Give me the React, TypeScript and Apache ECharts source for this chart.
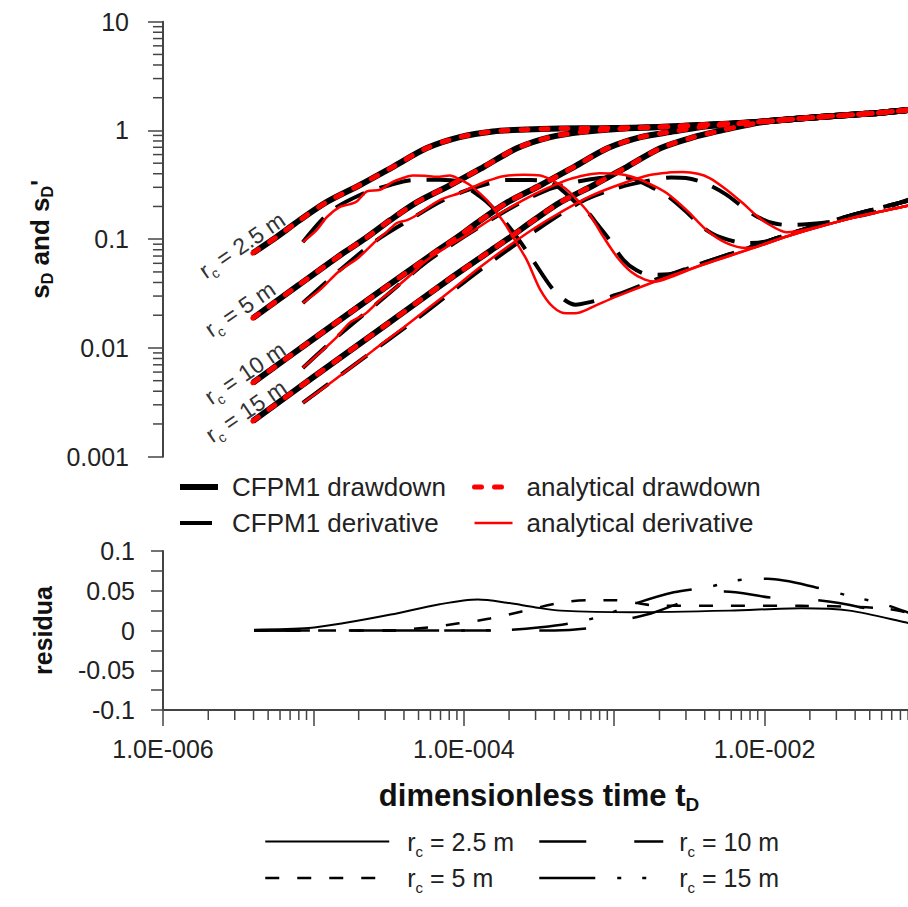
import React, { useEffect, useRef } from "react";
import * as echarts from "echarts";

type Pt = [number, number];

const FONT = "'Liberation Sans', Arial, Helvetica, sans-serif";

// ---------- labels / ticks ----------
const rcValues = ["2.5 m", "5 m", "10 m", "15 m"];
const residualNames = ["rc = 2.5 m", "rc = 5 m", "rc = 10 m", "rc = 15 m"];
const yTickExponents = [-3, -2, -1, 0, 1];
const yTickLabels = ["0.001", "0.01", "0.1", "1", "10"];
const xTickExponents = [-6, -4, -2];
const xTickLabels = ["1.0E-006", "1.0E-004", "1.0E-002"];
const residualTickValues = [-0.1, -0.05, 0, 0.05, 0.1];
const residualTickLabels = ["-0.1", "-0.05", "0", "0.05", "0.1"];
const minorTickMultipliers = [2, 3, 4, 5, 6, 7, 8, 9];
const yDecades = [-3, -2, -1, 0];
const xDecades = [-6, -5, -4, -3, -2];

// ---------- drawdown (CFPM1 and analytical overlap) ----------
const drawdown25: Pt[] = [
  [3.96e-6, 0.0746], [5.54e-6, 0.102], [8.13e-6, 0.15], [1.23e-5, 0.22], [2.04e-5, 0.315],
  [3.37e-5, 0.461], [5.68e-5, 0.689], [9.39e-5, 0.869], [1.56e-4, 0.98], [2.62e-4, 1.02],
  [4.35e-4, 1.04], [8.02e-4, 1.05], [1.8e-3, 1.07], [3.7e-3, 1.12], [8.32e-3, 1.19],
  [2.32e-2, 1.33], [4.99e-2, 1.43], [8.91e-2, 1.54], [1.0e-1, 1.57],
];
const drawdown5: Pt[] = [
  [3.96e-6, 0.0188], [7.9e-6, 0.0375], [1.58e-5, 0.0746], [2.22e-5, 0.102], [3.25e-5, 0.15],
  [4.92e-5, 0.22], [8.16e-5, 0.315], [1.35e-4, 0.461], [2.27e-4, 0.689], [3.76e-4, 0.869],
  [6.24e-4, 0.97], [1.05e-3, 1.03], [1.8e-3, 1.07], [3.7e-3, 1.12], [8.32e-3, 1.19],
  [2.32e-2, 1.33], [4.99e-2, 1.43], [8.91e-2, 1.54], [1.0e-1, 1.57],
];
const drawdown10: Pt[] = [
  [3.96e-6, 0.00479], [1.0e-5, 0.0121], [2.5e-5, 0.03], [6.34e-5, 0.0746], [8.86e-5, 0.102],
  [1.3e-4, 0.15], [1.97e-4, 0.22], [3.26e-4, 0.315], [5.39e-4, 0.461], [9.09e-4, 0.689],
  [1.5e-3, 0.869], [2.5e-3, 0.98], [3.7e-3, 1.07], [5.5e-3, 1.13], [8.32e-3, 1.19],
  [2.32e-2, 1.33], [4.99e-2, 1.43], [8.91e-2, 1.54], [1.0e-1, 1.57],
];
const drawdown15: Pt[] = [
  [3.96e-6, 0.00213], [1.0e-5, 0.0054], [3.0e-5, 0.0161], [8.0e-5, 0.0428], [1.43e-4, 0.0746],
  [1.99e-4, 0.102], [2.93e-4, 0.15], [4.43e-4, 0.22], [7.34e-4, 0.315], [1.21e-3, 0.461],
  [2.04e-3, 0.689], [3.38e-3, 0.869], [5.0e-3, 0.99], [7.0e-3, 1.1], [1.0e-2, 1.2],
  [2.32e-2, 1.33], [4.99e-2, 1.43], [8.91e-2, 1.54], [1.0e-1, 1.57],
];

// ---------- derivatives ----------
const cfpmDeriv25: Pt[] = [
  [8.5e-6, 0.094], [1.28e-5, 0.177], [2.04e-5, 0.255], [3.23e-5, 0.315], [4.58e-5, 0.35],
  [6.9e-5, 0.352], [9.39e-5, 0.336], [1.12e-4, 0.283], [1.4e-4, 0.225], [1.66e-4, 0.178],
  [2.25e-4, 0.105], [2.87e-4, 0.0646], [3.85e-4, 0.0356], [4.69e-4, 0.0276], [5.52e-4, 0.025],
  [7.0e-4, 0.0265], [1.05e-3, 0.031], [1.8e-3, 0.0415], [3.7e-3, 0.059], [8.85e-3, 0.088],
  [1.4e-2, 0.11], [3.85e-2, 0.167], [8.91e-2, 0.225], [1.0e-1, 0.233],
];
const anaDeriv25: Pt[] = [
  [8.5e-6, 0.094], [1.05e-5, 0.121], [1.23e-5, 0.16], [1.5e-5, 0.198], [1.75e-5, 0.21],
  [1.94e-5, 0.222], [2.27e-5, 0.275], [2.77e-5, 0.285], [3.37e-5, 0.336], [3.94e-5, 0.365],
  [4.58e-5, 0.385], [5.5e-5, 0.383], [6.62e-5, 0.375], [8.08e-5, 0.385], [9.39e-5, 0.355],
  [1.08e-4, 0.32], [1.22e-4, 0.28], [1.44e-4, 0.225], [1.66e-4, 0.175], [1.9e-4, 0.135],
  [2.12e-4, 0.105], [2.62e-4, 0.0646], [3.2e-4, 0.035], [3.9e-4, 0.024], [4.83e-4, 0.0208],
  [5.9e-4, 0.0212], [7.5e-4, 0.0245], [1.05e-3, 0.03], [1.8e-3, 0.04], [3.7e-3, 0.057],
  [8.85e-3, 0.085], [1.4e-2, 0.106], [3.85e-2, 0.157], [8.91e-2, 0.203], [1.0e-1, 0.21],
];
const cfpmDeriv5: Pt[] = [
  [8.5e-6, 0.0259], [1.43e-5, 0.049], [2.64e-5, 0.098], [4.58e-5, 0.157], [6.9e-5, 0.22],
  [1.0e-4, 0.275], [1.4e-4, 0.32], [1.9e-4, 0.35], [2.8e-4, 0.35], [3.76e-4, 0.336],
  [4.5e-4, 0.283], [5.4e-4, 0.225], [6.64e-4, 0.178], [7.8e-4, 0.135], [9.0e-4, 0.105],
  [1.15e-3, 0.0646], [1.4e-3, 0.052], [1.75e-3, 0.047], [2.3e-3, 0.0475], [3.7e-3, 0.059],
  [8.85e-3, 0.088], [1.4e-2, 0.11], [3.85e-2, 0.167], [8.91e-2, 0.225], [1.0e-1, 0.233],
];
const anaDeriv5: Pt[] = [
  [8.5e-6, 0.0259], [1.1e-5, 0.034], [1.5e-5, 0.0515], [2.0e-5, 0.068], [2.64e-5, 0.098],
  [3.1e-5, 0.118], [3.59e-5, 0.141], [4.2e-5, 0.15], [4.88e-5, 0.167], [6.93e-5, 0.229],
  [9.39e-5, 0.266], [1.15e-4, 0.302], [1.45e-4, 0.345], [1.83e-4, 0.38], [2.5e-4, 0.392],
  [3.23e-4, 0.385], [3.76e-4, 0.355], [4.3e-4, 0.32], [4.88e-4, 0.283], [5.76e-4, 0.225],
  [6.64e-4, 0.18], [7.6e-4, 0.135], [8.48e-4, 0.105], [1.05e-3, 0.068], [1.3e-3, 0.05],
  [1.6e-3, 0.0425], [1.9e-3, 0.0408], [2.4e-3, 0.045], [3.7e-3, 0.057], [8.85e-3, 0.085],
  [1.4e-2, 0.106], [3.85e-2, 0.157], [8.91e-2, 0.203], [1.0e-1, 0.21],
];
const cfpmDeriv10: Pt[] = [
  [8.5e-6, 0.00655], [1.43e-5, 0.0126], [2.77e-5, 0.027], [5.68e-5, 0.062], [1.0e-4, 0.105],
  [2.0e-4, 0.19], [3.5e-4, 0.28], [5.5e-4, 0.335], [8.0e-4, 0.365], [1.1e-3, 0.37],
  [1.33e-3, 0.36], [1.7e-3, 0.31], [2.23e-3, 0.253], [3.0e-3, 0.18], [3.87e-3, 0.129],
  [5.0e-3, 0.105], [7.6e-3, 0.092], [1.0e-2, 0.095], [1.4e-2, 0.11], [3.85e-2, 0.167],
  [8.91e-2, 0.225], [1.0e-1, 0.233],
];
const anaDeriv10: Pt[] = [
  [8.5e-6, 0.00655], [1.1e-5, 0.009], [1.43e-5, 0.0126], [1.74e-5, 0.017], [2.2e-5, 0.0205],
  [2.77e-5, 0.0276], [3.5e-5, 0.0355], [4.58e-5, 0.0489], [5.68e-5, 0.0643], [7.5e-5, 0.083],
  [1.0e-4, 0.105], [1.6e-4, 0.16], [2.5e-4, 0.23], [3.5e-4, 0.29], [5.0e-4, 0.355],
  [6.5e-4, 0.39], [8.0e-4, 0.405], [1.05e-3, 0.4], [1.33e-3, 0.373], [1.75e-3, 0.32],
  [2.23e-3, 0.266], [3.03e-3, 0.185], [4.12e-3, 0.121], [5.59e-3, 0.0922], [7.6e-3, 0.083],
  [8.85e-3, 0.085], [1.4e-2, 0.106], [3.85e-2, 0.157], [8.91e-2, 0.203], [1.0e-1, 0.21],
];
const cfpmDeriv15: Pt[] = [
  [8.5e-6, 0.00312], [2.0e-5, 0.0075], [5.0e-5, 0.019], [1.28e-4, 0.052], [3.0e-4, 0.12],
  [6.0e-4, 0.22], [1.0e-3, 0.29], [1.6e-3, 0.34], [2.4e-3, 0.37], [3.0e-3, 0.365],
  [3.99e-3, 0.328], [5.5e-3, 0.26], [7.15e-3, 0.198], [9.0e-3, 0.16], [1.15e-2, 0.14],
  [1.46e-2, 0.135], [2.0e-2, 0.138], [2.83e-2, 0.145], [3.6e-2, 0.157], [5.5e-2, 0.178],
  [8.91e-2, 0.23], [1.0e-1, 0.236],
];
const anaDeriv15: Pt[] = [
  [8.5e-6, 0.00312], [1.2e-5, 0.0044], [1.7e-5, 0.0063], [2.5e-5, 0.0095], [4.0e-5, 0.0155],
  [6.0e-5, 0.024], [8.5e-5, 0.035], [1.28e-4, 0.0552], [2.0e-4, 0.087], [3.0e-4, 0.128],
  [4.35e-4, 0.175], [7.0e-4, 0.25], [1.1e-3, 0.32], [1.72e-3, 0.389], [2.3e-3, 0.41],
  [2.85e-3, 0.414], [3.6e-3, 0.4], [4.31e-3, 0.365], [5.5e-3, 0.29], [7.15e-3, 0.215],
  [8.6e-3, 0.17], [1.03e-2, 0.141], [1.4e-2, 0.116], [2.0e-2, 0.125], [3.85e-2, 0.157],
  [8.91e-2, 0.203], [1.0e-1, 0.21],
];

// ---------- residuals ----------
const residual25: Pt[] = [
  [4.03e-6, 0.001], [9.33e-6, 0.003], [1.57e-5, 0.009], [3.27e-5, 0.02], [6.92e-5, 0.033],
  [1.24e-4, 0.039], [1.93e-4, 0.035], [3.01e-4, 0.029], [4.41e-4, 0.025], [1.33e-3, 0.023],
  [5.85e-3, 0.025], [1.76e-2, 0.028], [3.67e-2, 0.025], [8.77e-2, 0.01], [1.0e-1, 0.007],
];
const residual5: Pt[] = [
  [4.03e-6, 0], [1.5e-5, 0], [3.0e-5, 0.0], [5.9e-5, 0.004], [9.27e-5, 0.009],
  [1.49e-4, 0.015], [2.43e-4, 0.024], [4.41e-4, 0.035], [6.87e-4, 0.038], [1.02e-3, 0.038],
  [2.0e-3, 0.031], [5.85e-3, 0.031], [1.76e-2, 0.031], [3.67e-2, 0.03], [6.78e-2, 0.027],
  [1.0e-1, 0.02],
];
const residual10: Pt[] = [
  [4.03e-6, 0], [1.0e-4, 0], [4.0e-4, 0], [6.87e-4, 0.003], [8.51e-4, 0.008],
  [1.2e-3, 0.014], [1.73e-3, 0.021], [3.0e-3, 0.037], [5.42e-3, 0.049], [1.1e-2, 0.0415],
  [2.28e-2, 0.038], [4.4e-2, 0.029], [8.9e-2, 0.014], [1.0e-1, 0.012],
];
const residual15: Pt[] = [
  [4.03e-6, 0], [1.0e-4, 0], [2.05e-4, 0.001], [3.25e-4, 0.004], [5.47e-4, 0.01],
  [8.5e-4, 0.019], [1.39e-3, 0.034], [2.49e-3, 0.048], [4.32e-3, 0.055], [6.52e-3, 0.063],
  [1.05e-2, 0.065], [2.35e-2, 0.053], [3.56e-2, 0.044], [5.98e-2, 0.034], [8.9e-2, 0.023],
  [1.0e-1, 0.02],
];

const drawdowns = [drawdown25, drawdown5, drawdown10, drawdown15];
const cfpmDerivs = [cfpmDeriv25, cfpmDeriv5, cfpmDeriv10, cfpmDeriv15];
const anaDerivs = [anaDeriv25, anaDeriv5, anaDeriv10, anaDeriv15];
const residuals = [residual25, residual5, residual10, residual15];
const residualDash: any[] = ["solid", [14, 18], [47, 48], [56, 22, 4, 21, 4, 22]];

// in-plot label anchors (pixels) and rotation
const curveLabelPos: Pt[] = [[242, 245], [240, 309], [245, 373], [246, 411]];

const AXIS = "#444";
const TXT = "#222";

function rcRich(size: number, lh: number, color: string) {
  return {
    r: { fontFamily: FONT, fontSize: size, color, lineHeight: lh },
    s: { fontFamily: FONT, fontSize: Math.round(size * 0.6), color, lineHeight: Math.round(size * 0.56), verticalAlign: "bottom" },
  };
}

function buildOption(): any {
  const line = { type: "line", showSymbol: false, symbol: "none", silent: true, smooth: 0.3 };
  const series: any[] = [];
  drawdowns.forEach((d) =>
    series.push({ ...line, name: "CFPM1 drawdown", xAxisIndex: 0, yAxisIndex: 0, data: d, z: 2,
      lineStyle: { color: "#000", width: 6 }, itemStyle: { color: "#000" } })
  );
  cfpmDerivs.forEach((d) =>
    series.push({ ...line, name: "CFPM1 derivative", xAxisIndex: 0, yAxisIndex: 0, data: d, z: 3,
      lineStyle: { color: "#000", width: 4, type: [32, 16] }, itemStyle: { color: "#000" } })
  );
  anaDerivs.forEach((d) =>
    series.push({ ...line, name: "analytical derivative", xAxisIndex: 0, yAxisIndex: 0, data: d, z: 4,
      lineStyle: { color: "#ff0000", width: 2.5 }, itemStyle: { color: "#ff0000" } })
  );
  drawdowns.forEach((d) =>
    series.push({ ...line, name: "analytical drawdown", xAxisIndex: 0, yAxisIndex: 0, data: d, z: 5,
      lineStyle: { color: "#ff0000", width: 5, type: [7, 13], cap: "round" }, itemStyle: { color: "#ff0000" } })
  );
  residuals.forEach((d, i) =>
    series.push({ ...line, name: residualNames[i], xAxisIndex: 1, yAxisIndex: 1, data: d, z: 3,
      lineStyle: { color: "#000", width: i === 0 ? 2 : 2.5, type: residualDash[i] }, itemStyle: { color: "#000" } })
  );

  const yMinor: Pt[] = [];
  yDecades.forEach((k) => minorTickMultipliers.forEach((m) => yMinor.push([1e-6, m * Math.pow(10, k)])));
  const xMinor: Pt[] = [];
  xDecades.forEach((k) => minorTickMultipliers.forEach((m) => xMinor.push([m * Math.pow(10, k), -0.1])));

  series.push({
    type: "custom", xAxisIndex: 0, yAxisIndex: 0, silent: true, clip: false, z: 1, data: yMinor,
    renderItem: (_p: any, api: any) => {
      const c = api.coord([api.value(0), api.value(1)]);
      return { type: "line", shape: { x1: c[0] - 10, y1: c[1], x2: c[0], y2: c[1] }, style: { stroke: AXIS, lineWidth: 1.5 } };
    },
  });
  series.push({
    type: "custom", xAxisIndex: 1, yAxisIndex: 1, silent: true, clip: false, z: 1, data: xMinor,
    renderItem: (_p: any, api: any) => {
      const c = api.coord([api.value(0), api.value(1)]);
      return { type: "line", shape: { x1: c[0], y1: c[1], x2: c[0], y2: c[1] + 10 }, style: { stroke: AXIS, lineWidth: 1.5 } };
    },
  });

  const legendBase = {
    orient: "vertical", padding: 0, selectedMode: false, itemHeight: 14,
    lineStyle: { width: "inherit" }, itemStyle: { opacity: 0, borderWidth: 0 },
  };
  const legendTxt = { fontFamily: FONT, fontSize: 26, color: TXT, lineHeight: 26, padding: [0, 0, 0, 9] };
  const rcFormatter = (name: string) => `{r|r}{s|c}{r| = ${rcValues[residualNames.indexOf(name)]}}`;

  return {
    animation: false,
    backgroundColor: "#fff",
    grid: [
      { left: 163, top: 21.7, width: 752, height: 435, outerBoundsMode: "none" },
      { left: 163, top: 551, width: 752, height: 159, outerBoundsMode: "none" },
    ],
    xAxis: [
      { gridIndex: 0, type: "log", logBase: 10, min: 1e-6, max: 0.1, splitNumber: 5, show: false },
      {
        gridIndex: 1, type: "log", logBase: 10, min: 1e-6, max: 0.1, splitNumber: 5,
        axisLine: { show: true, onZero: false, lineStyle: { color: AXIS, width: 2 } },
        axisTick: { show: true, length: 16, lineStyle: { color: AXIS, width: 1.5 } },
        splitLine: { show: false }, minorTick: { show: false },
        axisLabel: {
          fontFamily: FONT, fontSize: 25, color: TXT, margin: 26,
          formatter: (v: number) => {
            const i = xTickExponents.indexOf(Math.round(Math.log10(v)));
            return i >= 0 ? xTickLabels[i] : "";
          },
        },
        name: "{b|dimensionless time t}{sub|D}", nameLocation: "middle", nameGap: 66,
        nameTextStyle: {
          rich: {
            b: { fontFamily: FONT, fontSize: 31, fontWeight: "bold", color: "#111", lineHeight: 38 },
            sub: { fontFamily: FONT, fontSize: 19, fontWeight: "bold", color: "#111", lineHeight: 18, verticalAlign: "bottom" },
          },
        },
      },
    ],
    yAxis: [
      {
        gridIndex: 0, type: "log", logBase: 10, min: 0.001, max: 10, splitNumber: 4,
        axisLine: { show: true, onZero: false, lineStyle: { color: AXIS, width: 2 } },
        axisTick: { show: true, length: 15, lineStyle: { color: AXIS, width: 1.5 } },
        splitLine: { show: false },
        axisLabel: {
          fontFamily: FONT, fontSize: 25, color: TXT, margin: 34,
          formatter: (v: number) => {
            const i = yTickExponents.indexOf(Math.round(Math.log10(v)));
            return i >= 0 ? yTickLabels[i] : "";
          },
        },
        name: "{b|s}{sub|D}{b| and s}{sub|D}{b|'}", nameLocation: "middle", nameRotate: 90, nameGap: 107,
        nameTextStyle: {
          rich: {
            b: { fontFamily: FONT, fontSize: 26, fontWeight: "bold", color: "#111", lineHeight: 32 },
            sub: { fontFamily: FONT, fontSize: 16, fontWeight: "bold", color: "#111", lineHeight: 16, verticalAlign: "bottom" },
          },
        },
      },
      {
        gridIndex: 1, type: "value", min: -0.1, max: 0.1, interval: 0.025,
        axisLine: { show: true, onZero: false, lineStyle: { color: AXIS, width: 2 } },
        axisTick: { show: true, length: 12, lineStyle: { color: AXIS, width: 1.5 } },
        splitLine: { show: false },
        axisLabel: {
          fontFamily: FONT, fontSize: 25, color: TXT, margin: 28,
          formatter: (v: number) => {
            const i = residualTickValues.findIndex((t) => Math.abs(t - v) < 1e-9);
            return i >= 0 ? residualTickLabels[i] : "";
          },
        },
        name: "residua", nameLocation: "middle", nameRotate: 90, nameGap: 108,
        nameTextStyle: { fontFamily: FONT, fontSize: 25, fontWeight: "bold", color: "#111" },
      },
    ],
    legend: [
      { ...legendBase, data: ["CFPM1 drawdown", "CFPM1 derivative"], left: 177, top: 474, itemWidth: 38, itemGap: 10, textStyle: legendTxt },
      { ...legendBase, data: ["analytical drawdown", "analytical derivative"], left: 472, top: 474, itemWidth: 38, itemGap: 10, textStyle: legendTxt },
      {
        ...legendBase, data: residualNames.slice(0, 2), left: 264, top: 829, itemWidth: 124, itemGap: 7,
        formatter: rcFormatter,
        textStyle: { fontFamily: FONT, fontSize: 25, color: TXT, padding: [0, 0, 0, 13], rich: rcRich(25, 34, TXT) },
      },
      {
        ...legendBase, data: residualNames.slice(2), left: 538, top: 829, itemWidth: 124, itemGap: 7,
        formatter: rcFormatter,
        textStyle: { fontFamily: FONT, fontSize: 25, color: TXT, padding: [0, 0, 0, 11], rich: rcRich(25, 34, TXT) },
      },
    ],
    graphic: rcValues.map((rc, i) => ({
      type: "text", x: curveLabelPos[i][0], y: curveLabelPos[i][1], rotation: 0.6, silent: true, z: 10,
      style: { text: `{r|r}{s|c}{r| = ${rc}}`, rich: rcRich(23, 30, "#333"), align: "center", verticalAlign: "middle", fill: "#333" },
    })),
    series,
  };
}

export default function App() {
  const ref = useRef<HTMLDivElement>(null);
  useEffect(() => {
    if (!ref.current) return;
    const chart = echarts.init(ref.current, null, { renderer: "svg" });
    chart.setOption(buildOption());
    return () => chart.dispose();
  }, []);
  return (
    <div
      ref={ref}
      style={{ position: "absolute", left: 0, top: 0, width: 908, height: 907, background: "#fff" }}
    />
  );
}
